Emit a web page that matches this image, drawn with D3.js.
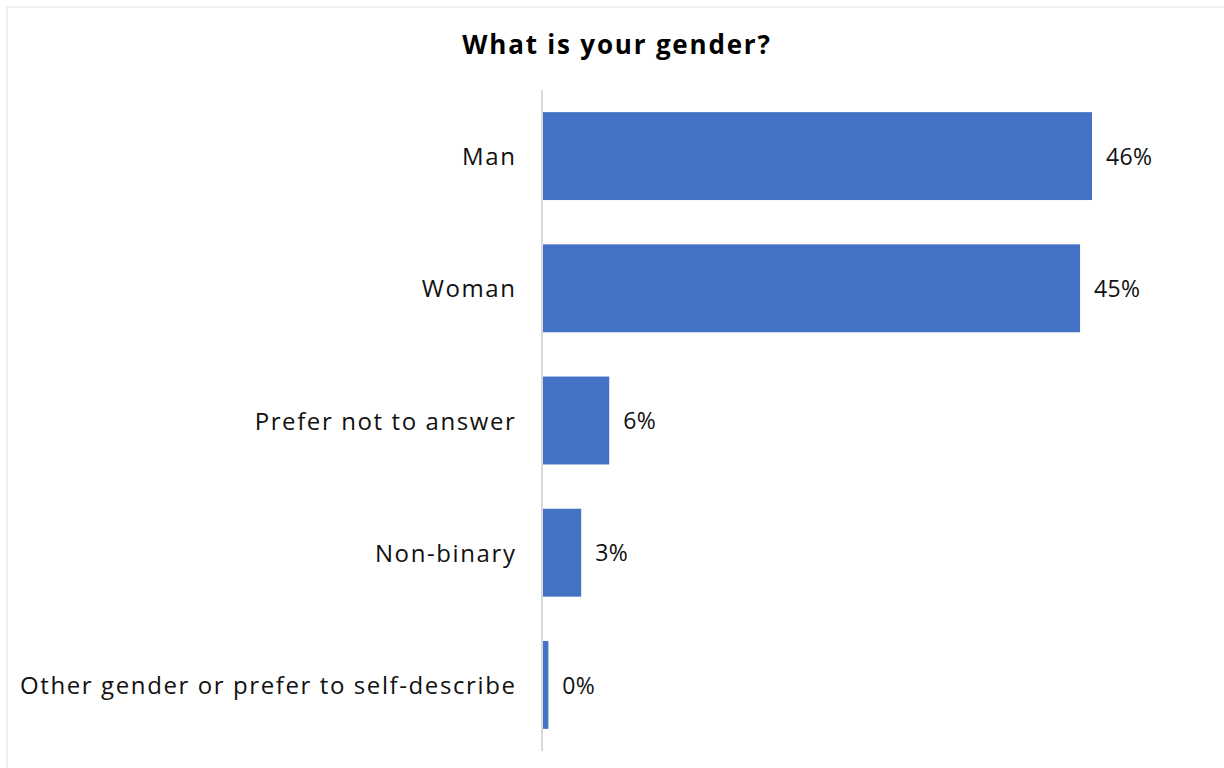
<!DOCTYPE html>
<html><head><meta charset="utf-8">
<script src="https://cdn.jsdelivr.net/npm/d3@7"></script>
<style>body{margin:0;background:#fff;} text{font-family:"Open Sans", sans-serif;}</style>
</head><body><svg id="c" width="1224" height="768"></svg>
<script>
const categories = ["Man","Woman","Prefer not to answer","Non-binary","Other gender or prefer to self-describe"];
const values = [46.0, 45.0, 5.55, 3.2, 0.45];
const valueLabels = ["46%","45%","6%","3%","0%"];
const title = "What is your gender?";

const svg = d3.select("#c");
svg.append("rect").attr("x",7).attr("y",7).attr("width",1230).attr("height",780)
  .attr("fill","#fff").attr("stroke","#efefef").attr("stroke-width",2);

const x0 = 543;
const x = d3.scaleLinear().domain([0,46]).range([x0, 1092]);
const y = d3.scaleBand().domain(categories).range([90,751]).paddingInner(0.335).paddingOuter(0.1675);

svg.append("text").attr("x",617).attr("y",54).attr("text-anchor","middle")
  .attr("font-size",26).attr("font-weight","bold").attr("letter-spacing",1.8).attr("fill","#000").text(title);

svg.selectAll("rect.bar").data(values).join("rect").attr("class","bar")
  .attr("x",x(0)).attr("y",(d,i)=>y(categories[i])).attr("height",y.bandwidth())
  .attr("width",d=>x(d)-x(0)).attr("fill","#4472C4");

svg.append("line").attr("x1",542).attr("x2",542).attr("y1",y.range()[0]).attr("y2",y.range()[1])
  .attr("stroke","#d9d9d9").attr("stroke-width",2);

svg.selectAll("text.cat").data(categories).join("text").attr("class","cat")
  .attr("x",516.5).attr("y",d=>y(d)+y.bandwidth()/2).attr("dy","0.38em")
  .attr("text-anchor","end").attr("font-size",24).attr("letter-spacing",1.6).attr("fill","#111").text(d=>d);

svg.selectAll("text.val").data(values).join("text").attr("class","val")
  .attr("x",d=>x(d)+14).attr("y",(d,i)=>y(categories[i])+y.bandwidth()/2).attr("dy","0.38em")
  .attr("font-size",23).attr("letter-spacing",0.3).attr("fill","#111").text((d,i)=>valueLabels[i]);
</script></body></html>
